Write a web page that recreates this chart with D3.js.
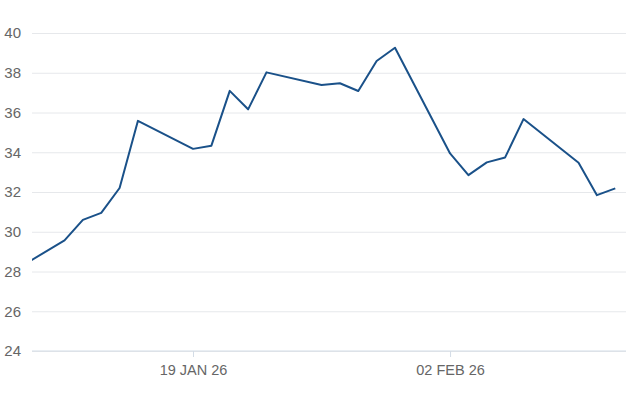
<!DOCTYPE html>
<html>
<head>
<meta charset="utf-8">
<script src="https://cdn.jsdelivr.net/npm/d3@7"></script>
<style>
  body { margin: 0; background: #fff; }
  svg { display: block; font-family: "Liberation Sans", Arial, sans-serif; }
</style>
</head>
<body>
<svg id="chart" width="626" height="417"></svg>
<script>
// price series, weekdays only
const dates = [
  '2026-01-09', '2026-01-12', '2026-01-13', '2026-01-14', '2026-01-15', '2026-01-16',
  '2026-01-19', '2026-01-20', '2026-01-21', '2026-01-22', '2026-01-23',
  '2026-01-26', '2026-01-27', '2026-01-28', '2026-01-29', '2026-01-30',
  '2026-02-02', '2026-02-03', '2026-02-04', '2026-02-05', '2026-02-06',
  '2026-02-09', '2026-02-10', '2026-02-11'
]
const values = [
  27.9, 29.57, 30.6, 30.95, 32.2, 35.58,
  34.17, 34.33, 37.09, 36.16, 38.02,
  37.38, 37.47, 37.08, 38.59, 39.26,
  33.94, 32.85, 33.49, 33.74, 35.67,
  33.47, 31.84, 32.18
]
const yTicks = [24, 26, 28, 30, 32, 34, 36, 38, 40]
const xTicks = ['2026-01-19', '2026-02-02']
const xStart = '2026-01-10T05:30'
const xEnd = '2026-02-11T14:00'

const width = 626
const height = 417
const margin = { top: 33, right: 0, bottom: 66, left: 32 }

const parse = (s) => new Date(s.length > 10 ? s : s + 'T00:00')
const data = dates.map((d, i) => ({ date: parse(d), value: values[i] }))

const svg = d3.select('#chart')

const x = d3.scaleTime()
  .domain([parse(xStart), parse(xEnd)])
  .range([margin.left, width - margin.right])
const y = d3.scaleLinear()
  .domain([24, 40])
  .range([height - margin.bottom, margin.top])

// horizontal grid lines
const grid = svg.append('g')
  .attr('transform', `translate(${margin.left},0)`)
  .call(d3.axisLeft(y).tickValues(yTicks).tickSize(-(width - margin.left - margin.right)).tickFormat(''))
grid.select('.domain').remove()
grid.selectAll('line').attr('stroke', '#e6e8eb').attr('stroke-width', 1)

// y labels
svg.append('g')
  .selectAll('text')
  .data(yTicks)
  .join('text')
  .attr('x', 21)
  .attr('y', (d) => y(d))
  .attr('dy', '0.36em')
  .attr('text-anchor', 'end')
  .attr('fill', '#666')
  .attr('font-size', 15)
  .text((d) => d)

// x axis
const fmt = d3.timeFormat('%d %b %y')
const xAxis = svg.append('g')
  .attr('transform', `translate(0,${height - margin.bottom})`)
  .call(d3.axisBottom(x).tickValues(xTicks.map(parse)).tickSize(6).tickPadding(8)
    .tickFormat((d) => fmt(d).toUpperCase()))
xAxis.select('.domain').attr('stroke', '#d3dce6').attr('d', `M${margin.left},0H${width}`)
xAxis.selectAll('line').attr('stroke', '#d3dce6')
xAxis.selectAll('text')
  .attr('fill', '#666')
  .attr('font-size', 14.5)
  .attr('font-family', '"Liberation Sans", Arial, sans-serif')

// clip so the line starts at the plot edge
svg.append('defs').append('clipPath').attr('id', 'plot-clip')
  .append('rect')
  .attr('x', margin.left)
  .attr('y', 0)
  .attr('width', width - margin.left)
  .attr('height', height)

const line = d3.line()
  .x((d) => x(d.date))
  .y((d) => y(d.value))

svg.append('path')
  .datum(data)
  .attr('clip-path', 'url(#plot-clip)')
  .attr('fill', 'none')
  .attr('stroke', '#1a5189')
  .attr('stroke-width', 2)
  .attr('stroke-linejoin', 'round')
  .attr('d', line)
</script>
</body>
</html>
